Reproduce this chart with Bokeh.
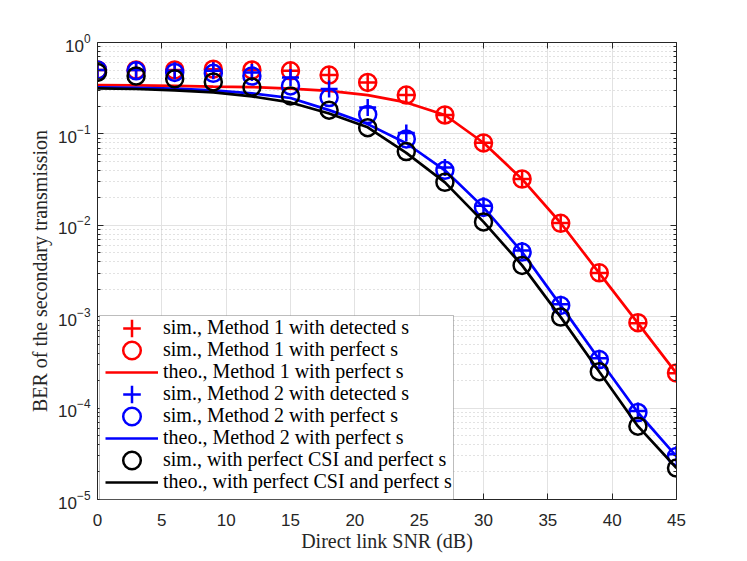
from bokeh.plotting import figure
from bokeh.models import (Range1d, LinearAxis, LogAxis, FixedTicker, Legend, LegendItem,
                          BoxAnnotation, CustomJSTickFormatter)
from bokeh.embed import file_html
from bokeh.resources import INLINE

# ---------------- data ----------------
snr = [0, 3, 6, 9, 12, 15, 18, 21, 24, 27, 30, 33, 36, 39, 42, 45]

m1_detected = [0.50, 0.50, 0.50, 0.51, 0.50, 0.49, 0.44, 0.365, 0.266, 0.161, 0.080,
               0.0322, 0.0106, 0.0030, 0.00085, 0.00024]
m1_perfect = [0.50, 0.50, 0.50, 0.51, 0.50, 0.49, 0.44, 0.366, 0.266, 0.161, 0.0797,
              0.0321, 0.0105, 0.00302, 0.00086, 0.000242]
m1_theory = [0.342, 0.339, 0.335, 0.329, 0.325, 0.313, 0.296, 0.266, 0.221, 0.161, 0.080,
             0.032, 0.0106, 0.0030, 0.00085, 0.00024]

m2_detected = [0.50, 0.50, 0.49, 0.49, 0.47, 0.415, 0.31, 0.195, 0.102, 0.043, 0.0164,
               0.0053, 0.00137, 0.00035, 0.000093, 0.0000313]
m2_perfect = [0.50, 0.49, 0.47, 0.46, 0.43, 0.335, 0.25, 0.163, 0.088, 0.040, 0.0157,
              0.0051, 0.00133, 0.00034, 0.0000895, 0.0000296]
m2_theory = [0.323, 0.320, 0.313, 0.300, 0.277, 0.247, 0.182, 0.128, 0.079, 0.040, 0.0157,
             0.0051, 0.00133, 0.00034, 0.0000895, 0.0000296]

csi_perfect = [0.47, 0.43, 0.40, 0.37, 0.325, 0.26, 0.182, 0.117, 0.064, 0.0295, 0.0109,
               0.00364, 0.00099, 0.00025, 0.0000634, 0.0000221]
csi_theory = [0.315, 0.310, 0.300, 0.284, 0.257, 0.221, 0.167, 0.118, 0.062, 0.0295, 0.0109,
              0.00364, 0.00099, 0.00025, 0.0000634, 0.0000221]

x_ticks = [0, 5, 10, 15, 20, 25, 30, 35, 40, 45]
y_ticks = [1e-5, 1e-4, 1e-3, 1e-2, 1e-1, 1]
y_minor = [m * 10.0 ** e for e in range(-5, 0) for m in range(2, 10)]

labels = [
    "sim., Method 1 with detected s",
    "sim., Method 1 with perfect s",
    "theo., Method 1 with perfect s",
    "sim., Method 2 with detected s",
    "sim., Method 2 with perfect s",
    "theo., Method 2 with perfect s",
    "sim., with perfect CSI and perfect s",
    "theo., with perfect CSI and perfect s",
]

# ---------------- figure ----------------
AX = "#262626"
p = figure(width=745, height=559, output_backend="svg", toolbar_location=None,
           x_range=Range1d(0, 45), y_range=Range1d(1e-5, 1), y_axis_type="log",
           min_border_left=97, min_border_right=69, min_border_top=42, min_border_bottom=60,
           background_fill_color="white", border_fill_color="white")
p.outline_line_color = None

xt = FixedTicker(ticks=x_ticks)
yt = FixedTicker(ticks=y_ticks, minor_ticks=y_minor)

p.xaxis.ticker = xt
p.yaxis.ticker = yt
p.xgrid.ticker = xt
p.ygrid.ticker = yt

for ax in (p.xaxis[0], p.yaxis[0]):
    ax.major_label_text_font = "Liberation Sans"
    ax.major_label_text_font_size = "17px"
    ax.major_label_text_color = AX
    ax.axis_line_color = AX
    ax.major_tick_line_color = AX
    ax.minor_tick_line_color = AX
    ax.major_tick_in = 6
    ax.major_tick_out = 0
    ax.minor_tick_in = 3
    ax.minor_tick_out = 0
    ax.axis_label_text_font = "Liberation Serif"
    ax.axis_label_text_font_size = "20px"
    ax.axis_label_text_font_style = "normal"
    ax.axis_label_text_color = AX

p.xaxis.axis_label = "Direct link SNR (dB)"
p.yaxis.axis_label = "BER of the secondary transmission"
p.xaxis.major_label_standoff = 14
p.xaxis.axis_label_standoff = 1
p.yaxis.major_label_standoff = 7
p.yaxis.axis_label_standoff = 4

blank = CustomJSTickFormatter(code="return ''")
top = LinearAxis(ticker=xt, formatter=blank, major_tick_in=6, major_tick_out=0,
                 axis_line_color=AX, major_tick_line_color=AX, minor_tick_line_color=None)
right = LogAxis(ticker=yt, formatter=blank, major_tick_in=6, major_tick_out=0,
                minor_tick_in=3, minor_tick_out=0,
                axis_line_color=AX, major_tick_line_color=AX, minor_tick_line_color=AX)
p.add_layout(top, "above")
p.add_layout(right, "right")

p.xgrid.grid_line_color = "#e2e2e2"
p.ygrid.grid_line_color = "#e2e2e2"
p.ygrid.minor_grid_line_color = "#c4c4c4"
p.ygrid.minor_grid_line_dash = "1 3"

# ---------------- series ----------------
MS = 17
MW = 2.5
LW = 2.7
r1 = p.scatter(snr, m1_detected, marker="cross", size=MS, line_color="red", line_width=MW)
r2 = p.scatter(snr, m1_perfect, marker="circle", size=MS, line_color="red", fill_color=None, line_width=MW)
r3 = p.line(snr, m1_theory, line_color="red", line_width=LW)
r4 = p.scatter(snr, m2_detected, marker="cross", size=MS, line_color="blue", line_width=MW)
r5 = p.scatter(snr, m2_perfect, marker="circle", size=MS, line_color="blue", fill_color=None, line_width=MW)
r6 = p.line(snr, m2_theory, line_color="blue", line_width=LW)
r7 = p.scatter(snr, csi_perfect, marker="circle", size=MS, line_color="black", fill_color=None, line_width=MW)
r8 = p.line(snr, csi_theory, line_color="black", line_width=LW)
renderers = [r1, r2, r3, r4, r5, r6, r7, r8]

# ---------------- legend ----------------
box = BoxAnnotation(left=2, right=356, bottom=0, top=184,
                    left_units="screen", right_units="screen",
                    top_units="screen", bottom_units="screen",
                    fill_color="white", fill_alpha=1.0, line_color=AX, line_width=1)
p.add_layout(box)

# two interleaved legends give 22 px row pitch with full-size markers
def make_legend(idx, loc):
    items = [LegendItem(label=labels[i], renderers=[renderers[i]]) for i in idx]
    return Legend(items=items, location=loc, glyph_width=53, glyph_height=44,
                  spacing=0, padding=0, margin=0, label_standoff=5, label_height=22,
                  background_fill_alpha=0, border_line_color=None,
                  label_text_font="Liberation Serif", label_text_font_size="20px",
                  label_text_color="black")

p.add_layout(make_legend([0, 2, 4, 6], (8, 17.5)))
p.add_layout(make_legend([1, 3, 5, 7], (8, -4.5)))

open("out.html", "w").write(file_html(p, INLINE))
